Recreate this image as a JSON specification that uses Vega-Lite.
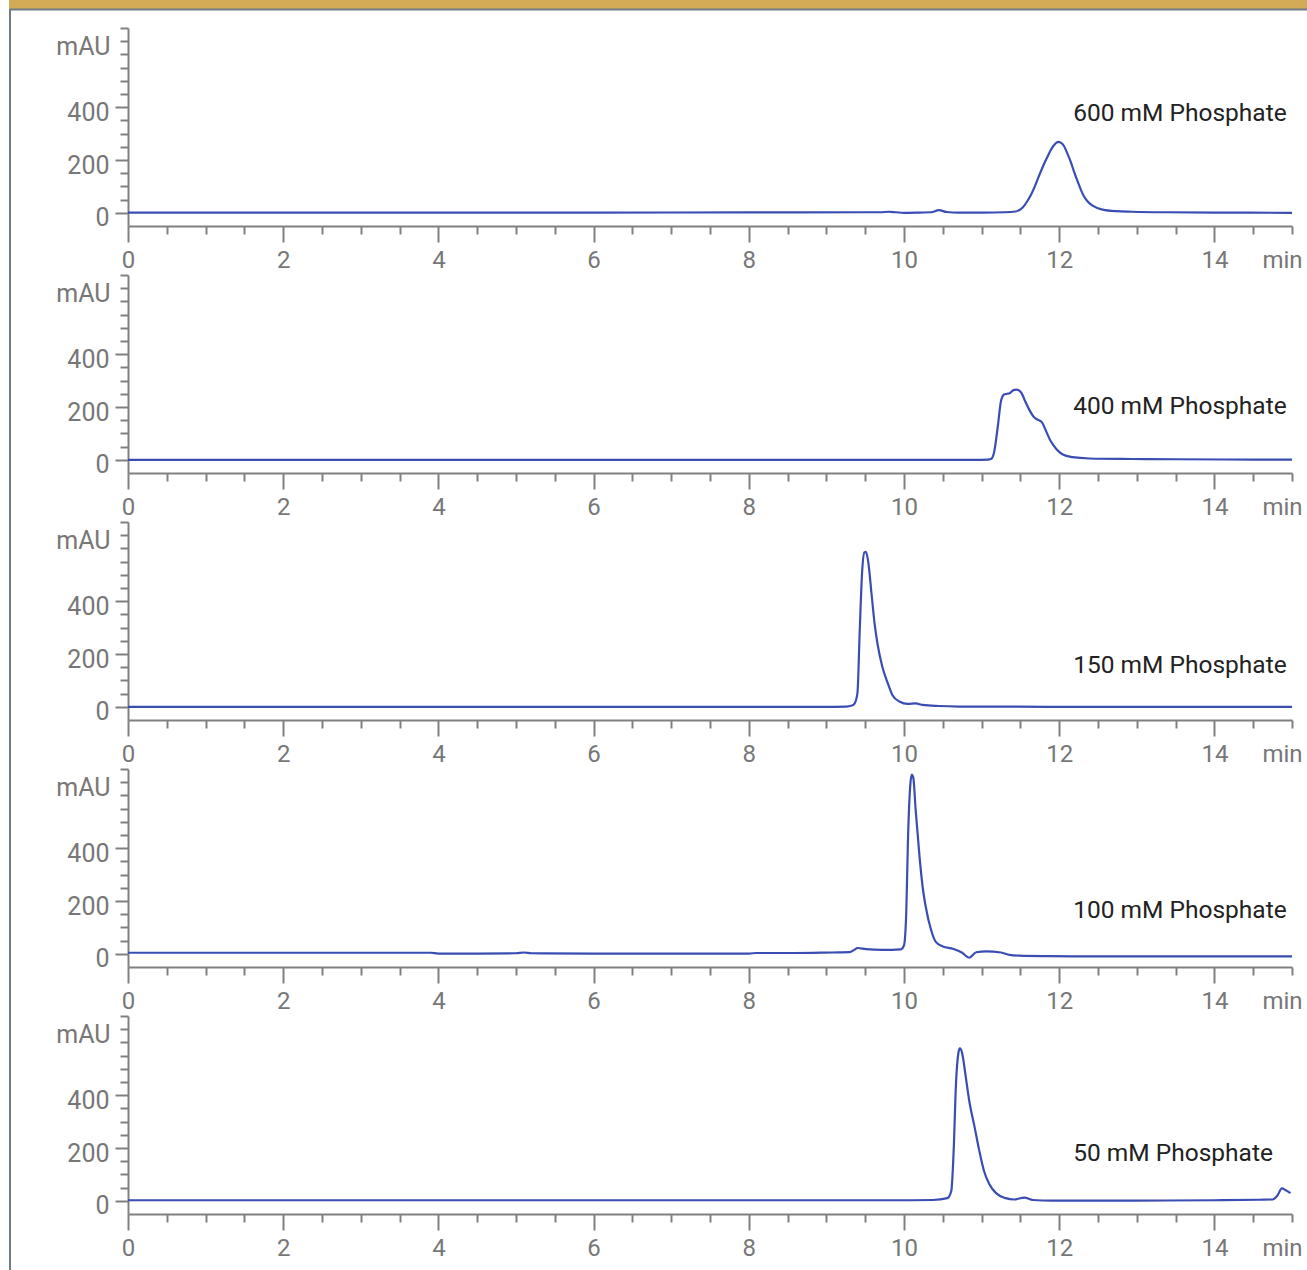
{
  "$schema": "https://vega.github.io/schema/vega-lite/v6.json",
  "background": "white",
  "padding": {"left": 9, "top": 0, "right": 0, "bottom": 0},
  "spacing": 0,
  "bounds": "full",
  "config": {
    "view": {"stroke": null},
    "font": "Roboto",
    "axis": {
      "labelFont": "Roboto",
      "labelFontSize": 25,
      "labelColor": "#777777",
      "domainColor": "#808080",
      "domainWidth": 2,
      "tickColor": "#808080",
      "tickWidth": 2,
      "labelOverlap": false,
      "labelFlush": false,
      "grid": false
    }
  },
  "datasets": {
    "p600": [
      {"t": 0, "v": 1}, {"t": 2, "v": 1}, {"t": 4, "v": 1}, {"t": 6, "v": 1}, {"t": 8, "v": 1.5},
      {"t": 9.5, "v": 2}, {"t": 9.7, "v": 2}, {"t": 9.8, "v": 4}, {"t": 9.9, "v": 2}, {"t": 10.0, "v": 0},
      {"t": 10.2, "v": 1}, {"t": 10.35, "v": 2}, {"t": 10.45, "v": 10}, {"t": 10.55, "v": 3}, {"t": 10.7, "v": 1},
      {"t": 11.0, "v": 1}, {"t": 11.3, "v": 2}, {"t": 11.44, "v": 5}, {"t": 11.53, "v": 20}, {"t": 11.58, "v": 40},
      {"t": 11.64, "v": 70}, {"t": 11.69, "v": 103}, {"t": 11.74, "v": 140}, {"t": 11.8, "v": 182}, {"t": 11.85, "v": 213},
      {"t": 11.89, "v": 237}, {"t": 11.93, "v": 255}, {"t": 11.99, "v": 269}, {"t": 12.02, "v": 266}, {"t": 12.06, "v": 254},
      {"t": 12.1, "v": 228}, {"t": 12.15, "v": 192}, {"t": 12.19, "v": 157}, {"t": 12.24, "v": 117}, {"t": 12.28, "v": 87},
      {"t": 12.32, "v": 62}, {"t": 12.37, "v": 42}, {"t": 12.43, "v": 27}, {"t": 12.56, "v": 12}, {"t": 12.73, "v": 6},
      {"t": 12.94, "v": 4}, {"t": 13.37, "v": 2}, {"t": 14.02, "v": 1}, {"t": 15, "v": 0}
    ],
    "p400": [
      {"t": 0, "v": 0}, {"t": 5, "v": 0}, {"t": 10, "v": 0}, {"t": 10.9, "v": 0}, {"t": 11.08, "v": 1},
      {"t": 11.12, "v": 3}, {"t": 11.16, "v": 27}, {"t": 11.21, "v": 129}, {"t": 11.25, "v": 223}, {"t": 11.29, "v": 247},
      {"t": 11.33, "v": 250}, {"t": 11.36, "v": 252}, {"t": 11.41, "v": 264}, {"t": 11.45, "v": 266}, {"t": 11.51, "v": 255},
      {"t": 11.56, "v": 223}, {"t": 11.61, "v": 192}, {"t": 11.68, "v": 160}, {"t": 11.73, "v": 151}, {"t": 11.78, "v": 141},
      {"t": 11.83, "v": 109}, {"t": 11.89, "v": 71}, {"t": 11.96, "v": 42}, {"t": 12.04, "v": 21}, {"t": 12.17, "v": 10},
      {"t": 12.39, "v": 5}, {"t": 12.94, "v": 3}, {"t": 13.5, "v": 2}, {"t": 14.5, "v": 1}, {"t": 15, "v": 1}
    ],
    "p150": [
      {"t": 0, "v": 0}, {"t": 5, "v": 0}, {"t": 9, "v": 0}, {"t": 9.25, "v": 1}, {"t": 9.33, "v": 5},
      {"t": 9.36, "v": 11}, {"t": 9.4, "v": 52}, {"t": 9.43, "v": 293}, {"t": 9.46, "v": 509}, {"t": 9.49, "v": 585},
      {"t": 9.51, "v": 587}, {"t": 9.54, "v": 547}, {"t": 9.58, "v": 433}, {"t": 9.62, "v": 318}, {"t": 9.66, "v": 236},
      {"t": 9.72, "v": 153}, {"t": 9.79, "v": 90}, {"t": 9.85, "v": 45}, {"t": 9.94, "v": 20}, {"t": 10.05, "v": 11},
      {"t": 10.15, "v": 13}, {"t": 10.24, "v": 7}, {"t": 10.45, "v": 3}, {"t": 10.71, "v": 1}, {"t": 12, "v": 0},
      {"t": 15, "v": 0}
    ],
    "p100": [
      {"t": 0, "v": 4}, {"t": 2, "v": 4}, {"t": 3.9, "v": 4}, {"t": 4.0, "v": 1}, {"t": 4.5, "v": 1},
      {"t": 5.0, "v": 2}, {"t": 5.1, "v": 5}, {"t": 5.2, "v": 2}, {"t": 6, "v": 1}, {"t": 7, "v": 1},
      {"t": 8.0, "v": 1}, {"t": 8.1, "v": 3}, {"t": 8.6, "v": 3}, {"t": 9.08, "v": 5}, {"t": 9.3, "v": 6},
      {"t": 9.36, "v": 15}, {"t": 9.4, "v": 22}, {"t": 9.51, "v": 18}, {"t": 9.72, "v": 15}, {"t": 9.96, "v": 17},
      {"t": 10.0, "v": 32}, {"t": 10.03, "v": 165}, {"t": 10.05, "v": 419}, {"t": 10.08, "v": 635}, {"t": 10.1, "v": 679},
      {"t": 10.12, "v": 667}, {"t": 10.15, "v": 546}, {"t": 10.2, "v": 368}, {"t": 10.24, "v": 254}, {"t": 10.28, "v": 178},
      {"t": 10.35, "v": 89}, {"t": 10.41, "v": 45}, {"t": 10.5, "v": 28}, {"t": 10.63, "v": 19}, {"t": 10.75, "v": 4},
      {"t": 10.84, "v": -15}, {"t": 10.93, "v": 6}, {"t": 11.06, "v": 9}, {"t": 11.25, "v": 5}, {"t": 11.36, "v": -4},
      {"t": 11.49, "v": -7}, {"t": 11.87, "v": -9}, {"t": 12.3, "v": -10}, {"t": 15, "v": -10}
    ],
    "p50": [
      {"t": 0, "v": 2}, {"t": 5, "v": 2}, {"t": 10, "v": 2}, {"t": 10.37, "v": 3}, {"t": 10.56, "v": 10},
      {"t": 10.61, "v": 38}, {"t": 10.64, "v": 190}, {"t": 10.67, "v": 444}, {"t": 10.7, "v": 558}, {"t": 10.72, "v": 577},
      {"t": 10.75, "v": 558}, {"t": 10.79, "v": 482}, {"t": 10.84, "v": 380}, {"t": 10.91, "v": 279}, {"t": 10.97, "v": 190},
      {"t": 11.03, "v": 114}, {"t": 11.1, "v": 63}, {"t": 11.19, "v": 28}, {"t": 11.31, "v": 10}, {"t": 11.42, "v": 5},
      {"t": 11.55, "v": 12}, {"t": 11.66, "v": 3}, {"t": 11.9, "v": 1}, {"t": 13, "v": 1}, {"t": 14, "v": 2},
      {"t": 14.58, "v": 4}, {"t": 14.75, "v": 5}, {"t": 14.81, "v": 19}, {"t": 14.87, "v": 47}, {"t": 14.92, "v": 40},
      {"t": 14.98, "v": 29}
    ],
    "labels": [
      {"panel": "600", "t": 12.18, "v": 349, "label": "600 mM Phosphate"},
      {"panel": "400", "t": 12.18, "v": 172, "label": "400 mM Phosphate"},
      {"panel": "150", "t": 12.18, "v": 127, "label": "150 mM Phosphate"},
      {"panel": "100", "t": 12.18, "v": 137, "label": "100 mM Phosphate"},
      {"panel": "50", "t": 12.18, "v": 151, "label": "50 mM Phosphate"}
    ]
  },
  "vconcat": [
    {
      "width": 1298,
      "height": 9,
      "view": {"fill": "#d3aa56", "stroke": null},
      "data": {"values": [{"t": 0.5}]},
      "mark": {"type": "point", "opacity": 0, "size": 1},
      "encoding": {
        "x": {"field": "t", "type": "quantitative", "scale": {"domain": [0, 1]},
          "axis": {"title": null, "ticks": false, "labels": false, "grid": false, "domain": true, "domainColor": "#6e7c88", "domainWidth": 2, "minExtent": 0, "maxExtent": 0}}
      }
    },
    {
      "spacing": 0,
      "bounds": "full",
      "hconcat": [
        {
          "width": 2,
          "height": 1262,
          "view": {"fill": "#6e7c88", "stroke": null},
          "data": {"values": []},
          "mark": "point"
        },
        {
          "spacing": 0,
          "bounds": "full",
          "vconcat": [
            {
              "width": 1164,
              "height": 1,
              "data": {"values": [{"t": 0.5}]},
              "mark": {"type": "point", "opacity": 0, "size": 1},
              "encoding": {
                "x": {"field": "t", "type": "quantitative", "scale": {"domain": [0, 1]},
                  "axis": {"title": null, "ticks": false, "labels": false, "grid": false, "domain": true, "domainOpacity": 0, "domainWidth": 1, "minExtent": 17, "maxExtent": 17}}
              }
            },
            {
              "width": 1164, "height": 198,
              "encoding": {
                "x": {"field": "t", "type": "quantitative", "scale": {"domain": [0, 15], "nice": false, "zero": false},
                  "axis": {"title": null, "labelOverlap": false, "tickCount": 200, "values": [0,0.5,1,1.5,2,2.5,3,3.5,4,4.5,5,5.5,6,6.5,7,7.5,8,8.5,9,9.5,10,10.5,11,11.5,12,12.5,13,13.5,14,14.5,15],
                    "labelExpr": "datum.value == 15 ? 'min' : (datum.value % 2 == 0 ? '' + datum.value : '')",
                    "labelFontSize": {"condition": {"test": "datum.value % 2 == 0 || datum.value == 15", "value": 24}, "value": 0},
                    "tickSize": {"condition": {"test": "datum.value % 2 == 0 && datum.value < 15", "value": 16}, "value": 8},
                    "labelPadding": {"condition": {"test": "datum.value == 15", "value": 14}, "value": 6},
                    "labelOffset": {"condition": {"test": "datum.value == 15", "value": -10}, "value": 0},
                    "minExtent": 48}},
                "y": {"field": "v", "type": "quantitative", "scale": {"domain": [-50, 700], "nice": false, "zero": false},
                  "axis": {"title": null, "labelOverlap": false, "tickCount": 200, "values": [0,50,100,150,200,250,300,350,400,450,500,550,600,650,700],
                    "labelExpr": "datum.value == 650 ? 'mAU' : ((datum.value == 0 || datum.value == 200 || datum.value == 400) ? '' + datum.value : '')",
                    "labelFontSize": {"condition": {"test": "datum.value == 0 || datum.value == 200 || datum.value == 400 || datum.value == 650", "value": 25}, "value": 0},
                    "tickSize": {"condition": {"test": "datum.value == 0 || datum.value == 200 || datum.value == 400", "value": 13}, "value": 8},
                    "labelPadding": {"condition": {"test": "datum.value == 650", "value": 10}, "value": 6},
                    "labelOffset": 5,
                    "minExtent": 116.2}}
              },
              "layer": [
                {"data": {"name": "p600"}, "mark": {"type": "line", "color": "#3a4db3", "strokeWidth": 2.2, "interpolate": "monotone"}},
                {"data": {"name": "labels"}, "transform": [{"filter": "datum.panel == '600'"}],
                  "mark": {"type": "text", "align": "left", "baseline": "alphabetic", "fontSize": 24.5, "font": "Roboto", "color": "#222222"},
                  "encoding": {"text": {"field": "label"}}}
              ]
            },
            {
              "width": 1164, "height": 198,
              "encoding": {
                "x": {"field": "t", "type": "quantitative", "scale": {"domain": [0, 15], "nice": false, "zero": false},
                  "axis": {"title": null, "labelOverlap": false, "tickCount": 200, "values": [0,0.5,1,1.5,2,2.5,3,3.5,4,4.5,5,5.5,6,6.5,7,7.5,8,8.5,9,9.5,10,10.5,11,11.5,12,12.5,13,13.5,14,14.5,15],
                    "labelExpr": "datum.value == 15 ? 'min' : (datum.value % 2 == 0 ? '' + datum.value : '')",
                    "labelFontSize": {"condition": {"test": "datum.value % 2 == 0 || datum.value == 15", "value": 24}, "value": 0},
                    "tickSize": {"condition": {"test": "datum.value % 2 == 0 && datum.value < 15", "value": 16}, "value": 8},
                    "labelPadding": {"condition": {"test": "datum.value == 15", "value": 14}, "value": 6},
                    "labelOffset": {"condition": {"test": "datum.value == 15", "value": -10}, "value": 0},
                    "minExtent": 48}},
                "y": {"field": "v", "type": "quantitative", "scale": {"domain": [-50, 700], "nice": false, "zero": false},
                  "axis": {"title": null, "labelOverlap": false, "tickCount": 200, "values": [0,50,100,150,200,250,300,350,400,450,500,550,600,650,700],
                    "labelExpr": "datum.value == 650 ? 'mAU' : ((datum.value == 0 || datum.value == 200 || datum.value == 400) ? '' + datum.value : '')",
                    "labelFontSize": {"condition": {"test": "datum.value == 0 || datum.value == 200 || datum.value == 400 || datum.value == 650", "value": 25}, "value": 0},
                    "tickSize": {"condition": {"test": "datum.value == 0 || datum.value == 200 || datum.value == 400", "value": 13}, "value": 8},
                    "labelPadding": {"condition": {"test": "datum.value == 650", "value": 10}, "value": 6},
                    "labelOffset": 5,
                    "minExtent": 116.2}}
              },
              "layer": [
                {"data": {"name": "p400"}, "mark": {"type": "line", "color": "#3a4db3", "strokeWidth": 2.2, "interpolate": "monotone"}},
                {"data": {"name": "labels"}, "transform": [{"filter": "datum.panel == '400'"}],
                  "mark": {"type": "text", "align": "left", "baseline": "alphabetic", "fontSize": 24.5, "font": "Roboto", "color": "#222222"},
                  "encoding": {"text": {"field": "label"}}}
              ]
            },
            {
              "width": 1164, "height": 198,
              "encoding": {
                "x": {"field": "t", "type": "quantitative", "scale": {"domain": [0, 15], "nice": false, "zero": false},
                  "axis": {"title": null, "labelOverlap": false, "tickCount": 200, "values": [0,0.5,1,1.5,2,2.5,3,3.5,4,4.5,5,5.5,6,6.5,7,7.5,8,8.5,9,9.5,10,10.5,11,11.5,12,12.5,13,13.5,14,14.5,15],
                    "labelExpr": "datum.value == 15 ? 'min' : (datum.value % 2 == 0 ? '' + datum.value : '')",
                    "labelFontSize": {"condition": {"test": "datum.value % 2 == 0 || datum.value == 15", "value": 24}, "value": 0},
                    "tickSize": {"condition": {"test": "datum.value % 2 == 0 && datum.value < 15", "value": 16}, "value": 8},
                    "labelPadding": {"condition": {"test": "datum.value == 15", "value": 14}, "value": 6},
                    "labelOffset": {"condition": {"test": "datum.value == 15", "value": -10}, "value": 0},
                    "minExtent": 48}},
                "y": {"field": "v", "type": "quantitative", "scale": {"domain": [-50, 700], "nice": false, "zero": false},
                  "axis": {"title": null, "labelOverlap": false, "tickCount": 200, "values": [0,50,100,150,200,250,300,350,400,450,500,550,600,650,700],
                    "labelExpr": "datum.value == 650 ? 'mAU' : ((datum.value == 0 || datum.value == 200 || datum.value == 400) ? '' + datum.value : '')",
                    "labelFontSize": {"condition": {"test": "datum.value == 0 || datum.value == 200 || datum.value == 400 || datum.value == 650", "value": 25}, "value": 0},
                    "tickSize": {"condition": {"test": "datum.value == 0 || datum.value == 200 || datum.value == 400", "value": 13}, "value": 8},
                    "labelPadding": {"condition": {"test": "datum.value == 650", "value": 10}, "value": 6},
                    "labelOffset": 5,
                    "minExtent": 116.2}}
              },
              "layer": [
                {"data": {"name": "p150"}, "mark": {"type": "line", "color": "#3a4db3", "strokeWidth": 2.2, "interpolate": "monotone"}},
                {"data": {"name": "labels"}, "transform": [{"filter": "datum.panel == '150'"}],
                  "mark": {"type": "text", "align": "left", "baseline": "alphabetic", "fontSize": 24.5, "font": "Roboto", "color": "#222222"},
                  "encoding": {"text": {"field": "label"}}}
              ]
            },
            {
              "width": 1164, "height": 198,
              "encoding": {
                "x": {"field": "t", "type": "quantitative", "scale": {"domain": [0, 15], "nice": false, "zero": false},
                  "axis": {"title": null, "labelOverlap": false, "tickCount": 200, "values": [0,0.5,1,1.5,2,2.5,3,3.5,4,4.5,5,5.5,6,6.5,7,7.5,8,8.5,9,9.5,10,10.5,11,11.5,12,12.5,13,13.5,14,14.5,15],
                    "labelExpr": "datum.value == 15 ? 'min' : (datum.value % 2 == 0 ? '' + datum.value : '')",
                    "labelFontSize": {"condition": {"test": "datum.value % 2 == 0 || datum.value == 15", "value": 24}, "value": 0},
                    "tickSize": {"condition": {"test": "datum.value % 2 == 0 && datum.value < 15", "value": 16}, "value": 8},
                    "labelPadding": {"condition": {"test": "datum.value == 15", "value": 14}, "value": 6},
                    "labelOffset": {"condition": {"test": "datum.value == 15", "value": -10}, "value": 0},
                    "minExtent": 48}},
                "y": {"field": "v", "type": "quantitative", "scale": {"domain": [-50, 700], "nice": false, "zero": false},
                  "axis": {"title": null, "labelOverlap": false, "tickCount": 200, "values": [0,50,100,150,200,250,300,350,400,450,500,550,600,650,700],
                    "labelExpr": "datum.value == 650 ? 'mAU' : ((datum.value == 0 || datum.value == 200 || datum.value == 400) ? '' + datum.value : '')",
                    "labelFontSize": {"condition": {"test": "datum.value == 0 || datum.value == 200 || datum.value == 400 || datum.value == 650", "value": 25}, "value": 0},
                    "tickSize": {"condition": {"test": "datum.value == 0 || datum.value == 200 || datum.value == 400", "value": 13}, "value": 8},
                    "labelPadding": {"condition": {"test": "datum.value == 650", "value": 10}, "value": 6},
                    "labelOffset": 5,
                    "minExtent": 116.2}}
              },
              "layer": [
                {"data": {"name": "p100"}, "mark": {"type": "line", "color": "#3a4db3", "strokeWidth": 2.2, "interpolate": "monotone"}},
                {"data": {"name": "labels"}, "transform": [{"filter": "datum.panel == '100'"}],
                  "mark": {"type": "text", "align": "left", "baseline": "alphabetic", "fontSize": 24.5, "font": "Roboto", "color": "#222222"},
                  "encoding": {"text": {"field": "label"}}}
              ]
            },
            {
              "width": 1164, "height": 198,
              "encoding": {
                "x": {"field": "t", "type": "quantitative", "scale": {"domain": [0, 15], "nice": false, "zero": false},
                  "axis": {"title": null, "labelOverlap": false, "tickCount": 200, "values": [0,0.5,1,1.5,2,2.5,3,3.5,4,4.5,5,5.5,6,6.5,7,7.5,8,8.5,9,9.5,10,10.5,11,11.5,12,12.5,13,13.5,14,14.5,15],
                    "labelExpr": "datum.value == 15 ? 'min' : (datum.value % 2 == 0 ? '' + datum.value : '')",
                    "labelFontSize": {"condition": {"test": "datum.value % 2 == 0 || datum.value == 15", "value": 24}, "value": 0},
                    "tickSize": {"condition": {"test": "datum.value % 2 == 0 && datum.value < 15", "value": 16}, "value": 8},
                    "labelPadding": {"condition": {"test": "datum.value == 15", "value": 14}, "value": 6},
                    "labelOffset": {"condition": {"test": "datum.value == 15", "value": -10}, "value": 0},
                    "minExtent": 48}},
                "y": {"field": "v", "type": "quantitative", "scale": {"domain": [-50, 700], "nice": false, "zero": false},
                  "axis": {"title": null, "labelOverlap": false, "tickCount": 200, "values": [0,50,100,150,200,250,300,350,400,450,500,550,600,650,700],
                    "labelExpr": "datum.value == 650 ? 'mAU' : ((datum.value == 0 || datum.value == 200 || datum.value == 400) ? '' + datum.value : '')",
                    "labelFontSize": {"condition": {"test": "datum.value == 0 || datum.value == 200 || datum.value == 400 || datum.value == 650", "value": 25}, "value": 0},
                    "tickSize": {"condition": {"test": "datum.value == 0 || datum.value == 200 || datum.value == 400", "value": 13}, "value": 8},
                    "labelPadding": {"condition": {"test": "datum.value == 650", "value": 10}, "value": 6},
                    "labelOffset": 5,
                    "minExtent": 116.2}}
              },
              "layer": [
                {"data": {"name": "p50"}, "mark": {"type": "line", "color": "#3a4db3", "strokeWidth": 2.2, "interpolate": "monotone"}},
                {"data": {"name": "labels"}, "transform": [{"filter": "datum.panel == '50'"}],
                  "mark": {"type": "text", "align": "left", "baseline": "alphabetic", "fontSize": 24.5, "font": "Roboto", "color": "#222222"},
                  "encoding": {"text": {"field": "label"}}}
              ]
            }
          ]
        }
      ]
    }
  ]
}
